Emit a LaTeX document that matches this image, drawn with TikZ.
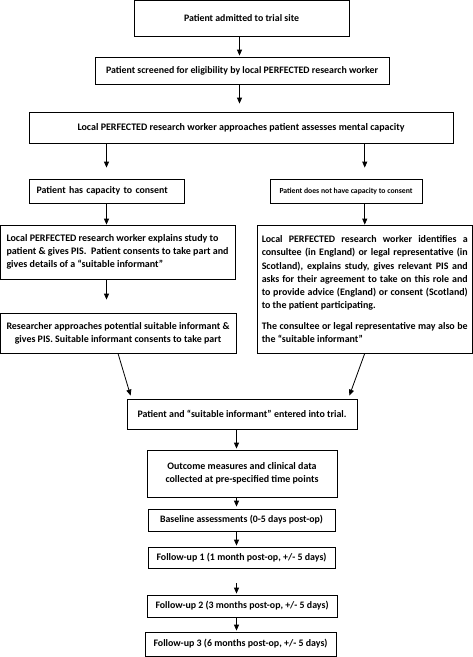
\documentclass[tikz,border=0pt]{standalone}
\usepackage{fontspec}
\setmainfont{Carlito}
\usetikzlibrary{arrows.meta}
\newlength\natw
\newcommand\calcfs[3]{\settowidth\natw{\bfseries\fontsize{10}{12}\selectfont #3}\pgfmathsetmacro#1{10*#2/\natw}}
\begin{document}
\calcfs\fsA{115}{Patient admitted to trial site}
\calcfs\fsB{272}{Patient screened for eligibility by local PERFECTED research worker}
\calcfs\fsC{327}{Local PERFECTED research worker approaches patient assesses mental capacity}
\calcfs\fsD{127}{Patient has capacity to consent}
\calcfs\fsE{133}{Patient does not have capacity to consent}
\calcfs\fsF{222}{patient \& gives PIS.\ \ Patient consents to take part and}
\calcfs\fsGa{204}{to provide advice (England) or consent (Scotland)}
\calcfs\fsGb{204}{consultee (in England) or legal representative (in}
\calcfs\fsGc{204}{Scotland), explains study, gives relevant PIS and}
\calcfs\fsGd{204}{asks for their agreement to take on this role and}
\calcfs\fsGe{204}{The consultee or legal representative may also be}
\pgfmathsetmacro\fsG{min(\fsGa,\fsGb,\fsGc,\fsGd,\fsGe)}
\calcfs\fsH{223}{Researcher approaches potential suitable informant \&}
\calcfs\fsI{209}{Patient and “suitable informant” entered into trial.}
\calcfs\fsJ{153}{collected at pre-specified time points}
\calcfs\fsK{163}{Baseline assessments (0-5 days post-op)}
\calcfs\fsL{170}{Follow-up 1 (1 month post-op, +/- 5 days)}
\calcfs\fsM{173}{Follow-up 2 (3 months post-op, +/- 5 days)}
\calcfs\fsN{174}{Follow-up 3 (6 months post-op, +/- 5 days)}
\begin{tikzpicture}[x=1pt,y=-1pt,
  box/.style={draw=black, line width=0.8pt, inner sep=0pt, align=center},
  txtsize/.style={font=\bfseries\fontsize{#1}{13.3}\selectfont},
  conn/.style={line width=0.8pt, -{Triangle[length=6pt,width=5pt]}}]
\useasboundingbox (0,0) rectangle (473,657);
\node[box, txtsize=\fsA, minimum width=215pt, minimum height=35.5pt] (b1) at (241.5,18.25) {Patient admitted to trial site};
\node[box, txtsize=\fsB, minimum width=294pt, minimum height=27pt] (b2) at (242,70.5) {Patient screened for eligibility by local PERFECTED research worker};
\node[box, txtsize=\fsC, minimum width=424pt, minimum height=31pt] (b3) at (241,127.5) {Local PERFECTED research worker approaches patient assesses mental capacity};
\node[box, txtsize=\fsD, minimum height=24pt, text width=140pt, inner xsep=7.5pt, align=left] (b4L) at (106.5,191) {Patient has capacity to consent};
\node[box, txtsize=\fsE, minimum width=152pt, minimum height=24pt] (b4R) at (346,191) {Patient does not have capacity to consent};
\node[box, txtsize=\fsF, minimum width=235pt, minimum height=54pt, align=left] (b5L) at (117.5,252) {Local PERFECTED research worker explains study to\\patient \& gives PIS.\ \ Patient consents to take part and\\gives details of a “suitable informant”};
\node[box, txtsize=\fsG, minimum width=215.5pt, minimum height=128pt, align=left] (b5R) at (364.75,289) {\makebox[206pt][s]{Local PERFECTED research worker identifies a}\\\makebox[206pt][s]{consultee (in England) or legal representative (in}\\\makebox[206pt][s]{Scotland), explains study, gives relevant PIS and}\\\makebox[206pt][s]{asks for their agreement to take on this role and}\\\makebox[206pt][s]{to provide advice (England) or consent (Scotland)}\\\makebox[206pt][l]{to the patient participating.}\\[7pt]\makebox[206pt][s]{The consultee or legal representative may also be}\\\makebox[206pt][l]{the “suitable informant”}};
\node[box, txtsize=\fsH, minimum width=236pt, minimum height=40pt] (b6L) at (118,333) {Researcher approaches potential suitable informant \&\\gives PIS. Suitable informant consents to take part};
\node[box, txtsize=\fsI, minimum width=230pt, minimum height=30pt] (b7) at (242,414) {Patient and “suitable informant” entered into trial.};
\node[box, txtsize=\fsJ, minimum width=190pt, minimum height=47pt] (b8) at (242,473.5) {Outcome measures and clinical data\\collected at pre-specified time points};
\node[box, txtsize=\fsK, minimum width=187pt, minimum height=22pt] (b9) at (241.5,520) {Baseline assessments (0-5 days post-op)};
\node[box, txtsize=\fsL, minimum width=187pt, minimum height=21pt] (b10) at (241.5,557.5) {Follow-up 1 (1 month post-op, +/- 5 days)};
\node[box, txtsize=\fsM, minimum width=190pt, minimum height=22pt] (b11) at (242,606) {Follow-up 2 (3 months post-op, +/- 5 days)};
\node[box, txtsize=\fsN, minimum width=191pt, minimum height=24pt] (b12) at (240.5,644) {Follow-up 3 (6 months post-op, +/- 5 days)};
\coordinate (top) at (239.5,0);
\coordinate (low) at (236.5,0);
\draw[conn, shorten >=1pt] (b1.south -| top) -- (b2.north -| top);
\draw[conn, shorten >=8pt] (b2.south -| top) -- (b3.north -| top);
\draw[conn, shorten >=11pt] (b3.south -| b4L.north) -- (b4L.north);
\draw[conn, shorten >=11pt] (b3.south -| b5R.north) -- (b4R.north -| b5R.north);
\draw[conn] (b4L.south) -- (b5L.north -| b4L.south);
\draw[conn] (b4R.south -| b5R.north) -- (b5R.north);
\draw[conn, shorten >=13pt] (b5L.south -| b4L.south) -- (b6L.north -| b4L.south);
\draw[conn] (b6L.south) -- ([xshift=4pt,yshift=3pt]b7.north west);
\draw[conn] (b5R.south) -- ([xshift=-8pt,yshift=3pt]b7.north east);
\draw[conn, shorten >=1pt] (b7.south -| low) -- (b8.north -| low);
\draw[conn, shorten >=2pt] (b8.south -| low) -- (b9.north -| low);
\draw[conn, shorten >=1pt] (b9.south -| low) -- (b10.north -| low);
\draw[conn, shorten <=15pt, shorten >=1pt] (b10.south -| low) -- (b11.north -| low);
\draw[conn, shorten >=1pt] (b11.south -| low) -- (b12.north -| low);
\end{tikzpicture}
\end{document}
